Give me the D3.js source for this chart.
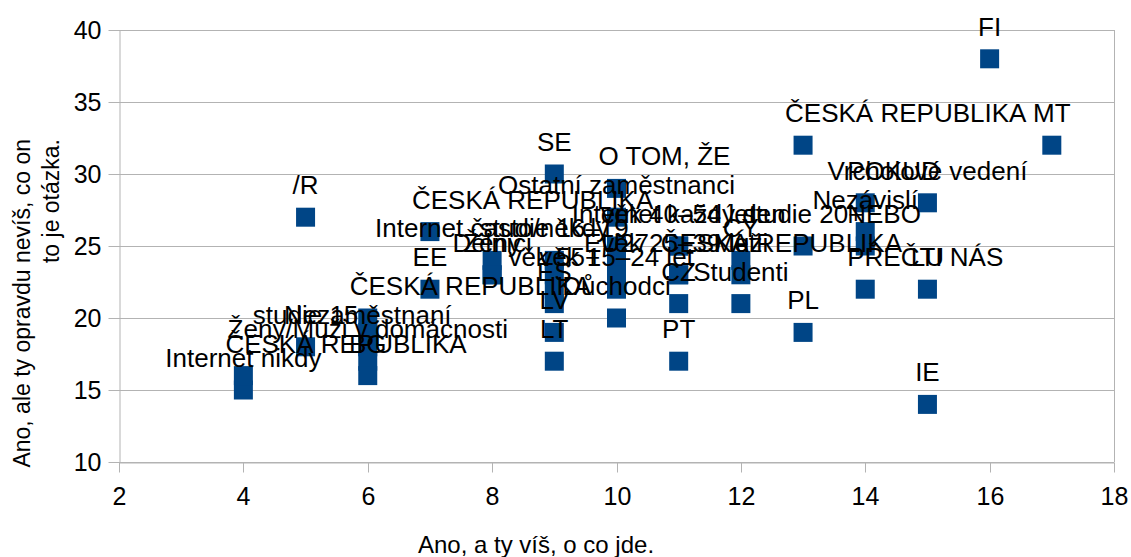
<!DOCTYPE html>
<html><head><meta charset="utf-8">
<script src="https://cdn.jsdelivr.net/npm/d3@7"></script>
<style>
body{margin:0;background:#fff}
svg{display:block;font-family:"Liberation Sans",Arial,sans-serif}
</style>
</head><body>
<svg id="c" width="1131" height="557"></svg>
<script>
// ---- data ----
const xValues = [4,4,5,5,6,6,6,6,6,7,7,8,8,8,9,9,9,9,9,9,9,10,10,10,10,10,10,10,11,11,11,11,11,11,12,12,12,13,13,13,14,14,14,14,15,15,15,16,17];
const yValues = [15,16,27,18,20,19,18,17,16,26,22,24,23,23,30,24,23,22,21,19,17,29,27,25,24,23,22,20,25,25,23,23,21,17,24,23,21,32,25,19,28,26,25,22,28,22,14,38,32];
const labels = ["Internet nikdy","ČESKÁ REPUBLIKA","/R","studie 15","ČESKÁ REPUBLIKA","","Nezaměstnaní","Ženy/Muži v domácnosti","BG",
  "ČESKÁ REPUBLIKA","EE","Internet často/někdy","Ženy","Dělníci",
  "SE","studie 16–19","","věk 55+","ES","LV","LT",
  "O TOM, ŽE","Ostatní zaměstnanci","","","EU27","věk 15–24 let","Důchodci",
  "Internet každý den","věk 40–54 let","věk 25–39 let","ČESKÁ REPUBLIKA","CZ","PT",
  "CY","Muži","Studenti",
  "ČESKÁ REPUBLIKA","studie 20+","PL",
  "POKUD","Nezávislí","NEBO","PŘEČTI NÁS",
  "Vrcholové vedení","LU","IE","FI","MT"];
const xTicks = [2,4,6,8,10,12,14,16,18];
const yTicks = [10,15,20,25,30,35,40];
const xTitle = "Ano, a ty víš, o co jde.";
const yTitleLines = ["Ano, ale ty opravdu nevíš, co on","to je otázka."];

// ---- style ----
const startAnchored = new Set(["ČESKÁ REPUBLIKA","O TOM, ŽE","POKUD","NEBO","PŘEČTI NÁS"]);
const gridColor = "#b3b3b3", markColor = "#004586";
const svg = d3.select("#c");
const x = d3.scaleLinear().domain([2,18]).range([119,1114]);
const y = d3.scaleLinear().domain([10,40]).range([462,30]);
const px = v => Math.round(v) + 0.5;

// grid lines
svg.append("g").selectAll("line").data(yTicks).join("line")
  .attr("x1", x(2)).attr("x2", x(18))
  .attr("y1", d => px(y(d))).attr("y2", d => px(y(d)))
  .attr("stroke", gridColor).attr("stroke-width", 1);
// right border
svg.append("line").attr("x1", px(x(18))).attr("x2", px(x(18)))
  .attr("y1", y(40)).attr("y2", y(10)).attr("stroke", gridColor);

// axes
const yAxis = svg.append("g").attr("transform", `translate(${px(x(2))},0)`)
  .call(d3.axisLeft(y).tickValues(yTicks).tickSize(11).tickSizeOuter(0).tickPadding(7));
const xAxis = svg.append("g").attr("transform", `translate(0,${px(y(10))})`)
  .call(d3.axisBottom(x).tickValues(xTicks).tickSize(10).tickSizeOuter(0).tickPadding(15));
[yAxis, xAxis].forEach(g => {
  g.select(".domain").attr("stroke", gridColor);
  g.selectAll(".tick line").attr("stroke", gridColor);
  g.selectAll(".tick text").attr("fill", "#000").style("font-size", "25px")
    .style("font-family", '"Liberation Sans",Arial,sans-serif');
});
xAxis.selectAll(".tick").attr("transform", d => `translate(${px(x(d))},0)`);
yAxis.selectAll(".tick").attr("transform", d => `translate(0,${px(y(d))})`);

// markers
const pts = xValues.map((v, i) => ({x: v, y: yValues[i], label: labels[i]}));
const ms = 19;
svg.append("g").selectAll("rect").data(pts).join("rect")
  .attr("x", d => x(d.x) - ms/2).attr("y", d => y(d.y) - ms/2)
  .attr("width", ms).attr("height", ms).attr("fill", markColor);

// labels
svg.append("g").selectAll("text").data(pts.filter(d => d.label)).join("text")
  .attr("x", d => startAnchored.has(d.label) ? x(d.x) - 18 : x(d.x))
  .attr("y", d => y(d.y) - 23)
  .attr("text-anchor", d => startAnchored.has(d.label) ? "start" : "middle")
  .attr("fill", "#000").style("font-size", "26px")
  .text(d => d.label);

// axis titles
svg.append("text").attr("x", 536).attr("y", 553).attr("text-anchor", "middle")
  .style("font-size", "24px").attr("fill", "#000").text(xTitle);
svg.append("g").attr("transform", "translate(0,139) rotate(-90)")
  .selectAll("text").data(yTitleLines).join("text")
  .attr("x", 0).attr("y", (d, i) => 30 + i * 29)
  .attr("text-anchor", "end").style("font-size", "23px").attr("fill", "#000")
  .text(d => d);
</script>
</body></html>
